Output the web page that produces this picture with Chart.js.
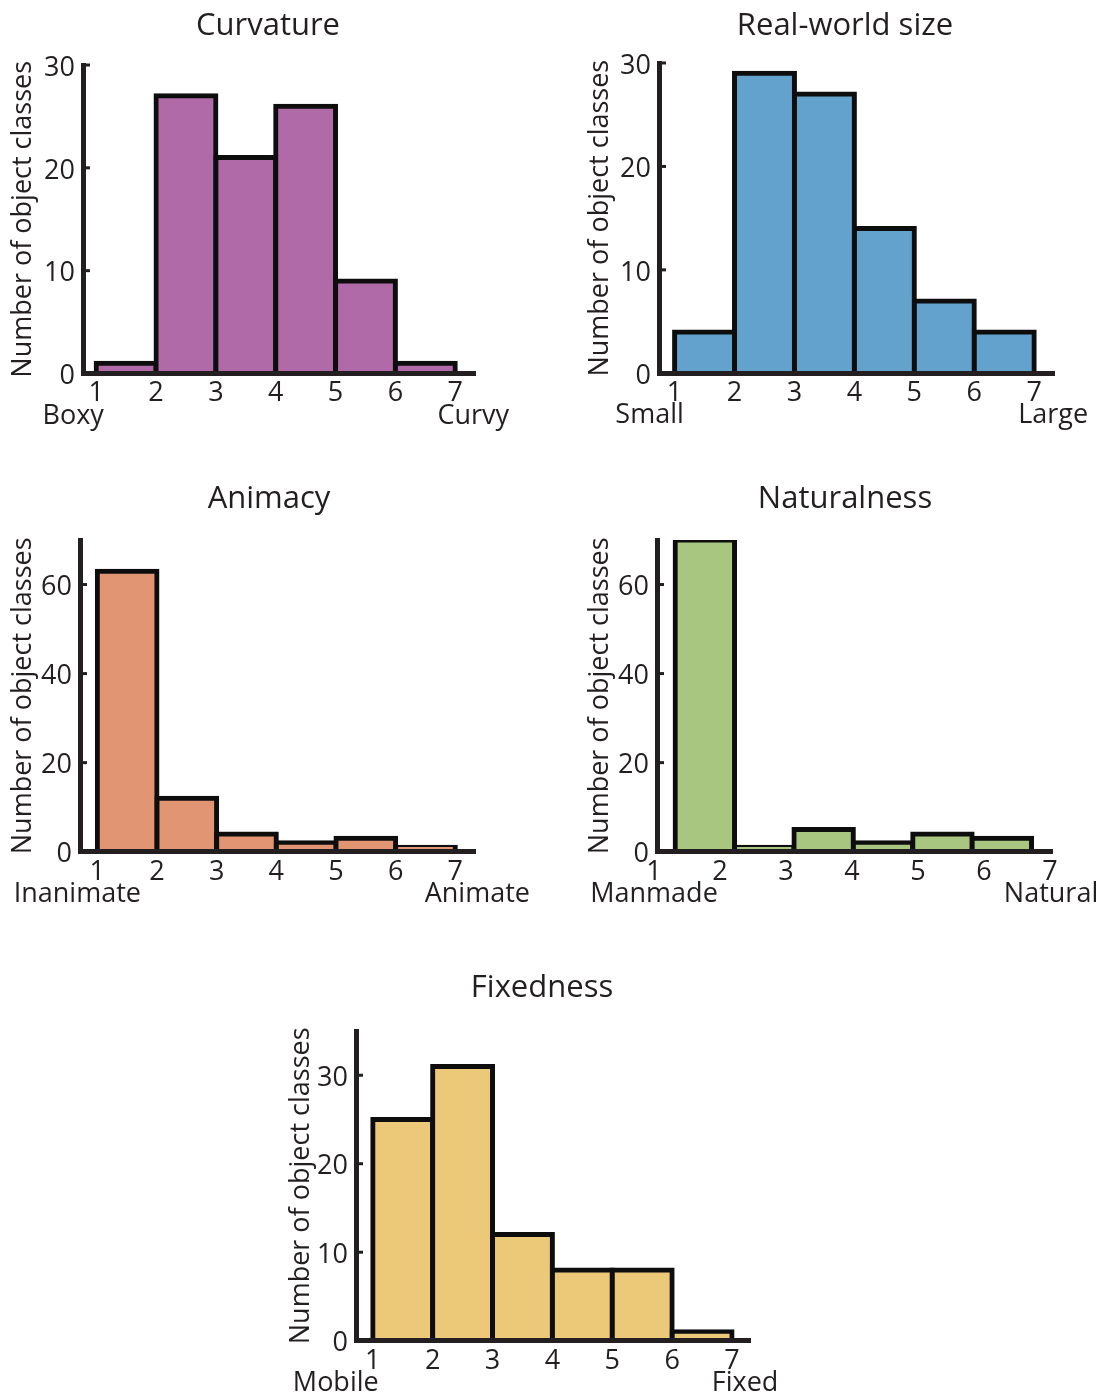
<!DOCTYPE html>
<html>
<head>
<meta charset="utf-8">
<script src="https://cdn.jsdelivr.net/npm/chart.js@4.4.1/dist/chart.umd.min.js"></script>
<style>
  html, body { margin: 0; padding: 0; background: #fff; }
  body { width: 1107px; height: 1396px; position: relative; overflow: hidden; }
  .panel { position: absolute; }
</style>
</head>
<body>
<div class="panel" id="p1"><canvas id="c1"></canvas></div>
<div class="panel" id="p2"><canvas id="c2"></canvas></div>
<div class="panel" id="p3"><canvas id="c3"></canvas></div>
<div class="panel" id="p4"><canvas id="c4"></canvas></div>
<div class="panel" id="p5"><canvas id="c5"></canvas></div>
<script>
// histogram bins (bin centres on the 1-7 rating scale)
const binCenters = [1.5, 2.5, 3.5, 4.5, 5.5, 6.5]
const naturalnessCenters = [1.77, 2.67, 3.57, 4.47, 5.37, 6.27]

// counts per bin
const curvatureCounts = [1, 27, 21, 26, 9, 1]
const sizeCounts = [4, 29, 27, 14, 7, 4]
const animacyCounts = [63, 12, 4, 2, 3, 1]
const naturalnessCounts = [70, 1, 5, 2, 4, 3]
const fixednessCounts = [25, 31, 12, 8, 8, 1]

// tick labels
const xTickValues = [1, 2, 3, 4, 5, 6, 7]
const yTicksSmall = [0, 10, 20, 30]
const yTicksLarge = [0, 20, 40, 60]

const titles = ['Curvature', 'Real-world size', 'Animacy', 'Naturalness', 'Fixedness']
const endLabels = [['Boxy', 'Curvy'], ['Small', 'Large'], ['Inanimate', 'Animate'], ['Manmade', 'Natural'], ['Mobile', 'Fixed']]
const yLabel = 'Number of object classes'

const FONT = "'Open Sans', 'Noto Sans', sans-serif"
const INK = '#231f20'

// page layout of each panel (pixels)
const panels = [
    {id: 1, box: [0, 0, 545, 440], axisX: 83, right: 475, top: 65, bottom: 373.5, yTitleX: 23, titleX: 268, titleY: 35,
        xMin: 0.78, xMax: 7.33, yMax: 30, yTicks: yTicksSmall, centers: binCenters, counts: curvatureCounts, color: '#b06aa8', endDx: [-23, 18]},
    {id: 2, box: [555, 0, 552, 440], axisX: 659, right: 1054, top: 63, bottom: 373.3, yTitleX: 600, titleX: 845, titleY: 35,
        xMin: 0.74, xMax: 7.33, yMax: 30, yTicks: yTicksSmall, centers: binCenters, counts: sizeCounts, color: '#63a2cd', endDx: [-25, 19]},
    {id: 3, box: [0, 460, 545, 460], axisX: 80, right: 475, top: 540, bottom: 851.7, yTitleX: 23, titleX: 269, titleY: 508,
        xMin: 0.71, xMax: 7.33, yMax: 70, yTicks: yTicksLarge, centers: binCenters, counts: animacyCounts, color: '#e29573', endDx: [-20, 22]},
    {id: 4, box: [555, 460, 552, 460], axisX: 657, right: 1052, top: 540, bottom: 851.7, yTitleX: 600, titleX: 845, titleY: 508,
        xMin: 1.045, xMax: 7.03, yMax: 70, yTicks: yTicksLarge, centers: naturalnessCenters, counts: naturalnessCounts, color: '#a8c680', endDx: [0, 1]},
    {id: 5, box: [250, 950, 600, 446], axisX: 356, right: 750, top: 1031, bottom: 1340.7, yTitleX: 301, titleX: 542, titleY: 997,
        xMin: 0.72, xMax: 7.3, yMax: 35, yTicks: yTicksSmall, centers: binCenters, counts: fixednessCounts, color: '#ecc978', endDx: [-37, 13]}
]

// title, end labels and inward y ticks
const panelText = {
    id: 'panelText',
    afterDraw(chart, args, opts) {
        const ctx = chart.ctx
        const xs = chart.scales.x
        const ys = chart.scales.y
        const area = chart.chartArea
        ctx.save()
        // inward tick marks on the y axis
        ctx.strokeStyle = INK
        ctx.lineWidth = 3
        opts.yTicks.forEach((v) => {
            if (v === 0) return
            const py = ys.getPixelForValue(v)
            ctx.beginPath()
            ctx.moveTo(area.left, py)
            ctx.lineTo(area.left + 7, py)
            ctx.stroke()
        })
        ctx.fillStyle = INK
        ctx.textBaseline = 'alphabetic'
        ctx.textAlign = 'center'
        ctx.font = '31px ' + FONT
        ctx.fillText(opts.title, opts.titleX, opts.titleY)
        ctx.font = '27px ' + FONT
        const base = area.bottom + 50
        ctx.fillText(opts.ends[0], xs.getPixelForValue(xTickValues[0]) + opts.endDx[0], base)
        ctx.fillText(opts.ends[1], xs.getPixelForValue(xTickValues[xTickValues.length - 1]) + opts.endDx[1], base)
        ctx.restore()
    }
}

function makePanel(p, i) {
    const [bx, by, bw, bh] = p.box
    const wrap = document.getElementById('p' + p.id)
    wrap.style.left = bx + 'px'
    wrap.style.top = by + 'px'
    wrap.style.width = bw + 'px'
    wrap.style.height = bh + 'px'
    const canvas = document.getElementById('c' + p.id)
    canvas.width = bw
    canvas.height = bh

    const lineH = 27 * 1.2
    const scaleLeft = p.yTitleX - lineH / 2
    const yw = p.axisX - scaleLeft
    const xh = by + bh - p.bottom

    return new Chart(canvas, {
        type: 'bar',
        data: {
            datasets: [{
                data: p.centers.map((c, k) => ({x: c, y: p.counts[k]})),
                backgroundColor: p.color,
                borderColor: '#0d0d0d',
                borderWidth: 5,
                inflateAmount: 2.5,
                borderSkipped: 'start',
                barPercentage: 1,
                categoryPercentage: 1
            }]
        },
        options: {
            responsive: false,
            animation: false,
            events: [],
            layout: {
                padding: {left: scaleLeft - bx, top: p.top - by, right: bx + bw - p.right, bottom: 0}
            },
            plugins: {
                legend: {display: false},
                tooltip: {enabled: false},
                panelText: {title: titles[i], titleX: p.titleX - bx, titleY: p.titleY - by, ends: endLabels[i], endDx: p.endDx, yTicks: p.yTicks}
            },
            scales: {
                x: {
                    type: 'linear',
                    min: p.xMin,
                    max: p.xMax,
                    offset: false,
                    grid: {display: false, drawTicks: false, offset: false},
                    border: {display: true, color: INK, width: 5, z: 1},
                    afterBuildTicks: (s) => { s.ticks = xTickValues.map((v) => ({value: v})) },
                    afterFit: (s) => { s.height = xh },
                    ticks: {
                        autoSkip: false,
                        maxRotation: 0,
                        padding: 4,
                        color: INK,
                        font: {family: FONT, size: 27},
                        callback: (v) => String(v)
                    }
                },
                y: {
                    min: 0,
                    max: p.yMax,
                    grid: {display: false, drawTicks: false},
                    border: {display: true, color: INK, width: 5, z: 1},
                    afterBuildTicks: (s) => { s.ticks = p.yTicks.map((v) => ({value: v})) },
                    afterFit: (s) => { s.width = yw },
                    ticks: {
                        padding: 8,
                        labelOffset: 3,
                        color: INK,
                        font: {family: FONT, size: 27},
                        callback: (v) => String(v)
                    },
                    title: {
                        display: true,
                        text: yLabel,
                        color: INK,
                        padding: 0,
                        font: {family: FONT, size: 27}
                    }
                }
            }
        },
        plugins: [panelText]
    })
}

panels.forEach(makePanel)
</script>
</body>
</html>
